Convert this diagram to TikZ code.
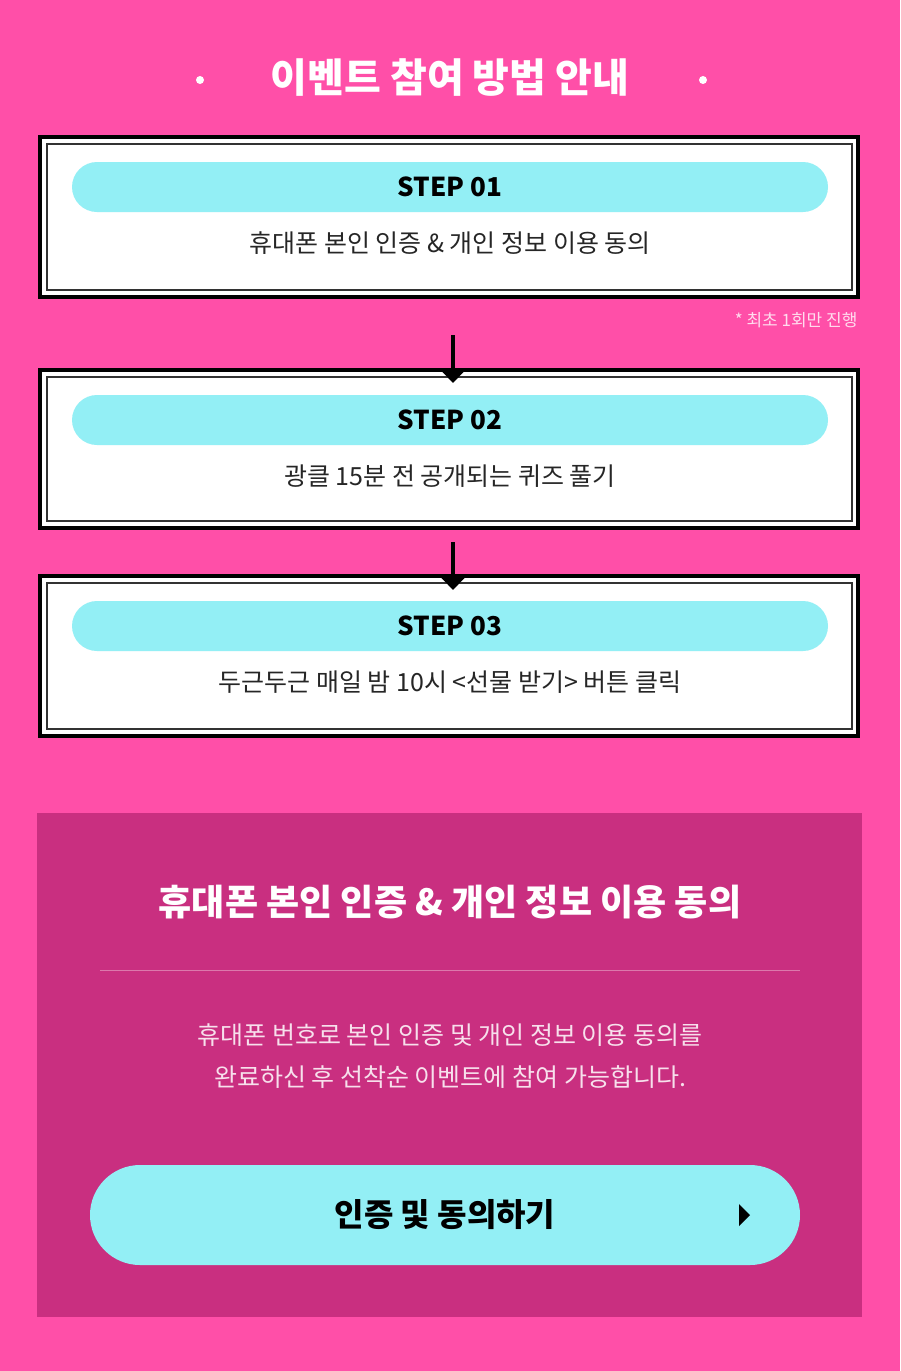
\documentclass[tikz,border=0pt]{standalone}
\usepackage{fontspec}
\setmainfont{Noto Sans CJK KR}
\newfontfamily\krbold{Noto Sans CJK KR}[BoldFont={* Bold}]
\usetikzlibrary{positioning,arrows.meta}
\definecolor{bgpink}{HTML}{FF4FA8}
\definecolor{panelpink}{HTML}{C92F80}
\definecolor{pillcyan}{HTML}{93EFF5}
\tikzset{
    step box/.style = {
        draw=black, line width=4pt, fill=white,
        },
    step inner/.style = {
        draw=black!80, line width=1.5pt,
        },
    step pill/.style = {
        fill=pillcyan, rounded corners=25pt,
        },
    step label/.style = {
        font=\fontsize{26}{30}\selectfont\bfseries,
        },
    step text/.style = {
        font=\fontsize{25}{30}\selectfont, text=black!85,
        },
    down arrow/.style = {
        -{Triangle[length=14pt,width=26pt]}, line width=4pt,
        },
}
\begin{document}
\begin{tikzpicture}[x=1pt,y=-1pt]
    \fill[bgpink] (0,0) rectangle (900,1371);
    \useasboundingbox (0,0) rectangle (900,1371);

    % title
    \node[text=white, font=\fontsize{40}{44}\selectfont\bfseries] (title) at (450,78) {이벤트 참여 방법 안내};
    \fill[white] (200,80) circle (4);
    \fill[white] (703,80) circle (4);

    % steps
    \foreach \i/\top/\bot/\txt in {1/137/297/{휴대폰 본인 인증 \& 개인 정보 이용 동의},
                                   2/370/528/{광클 15분 전 공개되는 퀴즈 풀기},
                                   3/576/736/{두근두근 매일 밤 10시 <선물 받기> 버튼 클릭}} {
        \draw[step box] (40,\top) rectangle (858,\bot);
        \draw[step inner] (47,\top+7) rectangle (852,\bot-7);
        \fill[step pill] (72,\top+25) rectangle (828,\top+75);
        \node[step label] (label\i) at (450,\top+50) {STEP 0\i};
        \node[step text] (text\i) at (450,\top+106) {\txt};
    }

    \node[anchor=east, text=white!80!bgpink, font=\fontsize{17}{20}\selectfont] (note) at (861,320) {* 최초 1회만 진행};

    \coordinate (a1) at (453,335);
    \coordinate (a2) at (453,542);
    \draw[down arrow] (a1) -- ++(0,48);
    \draw[down arrow] (a2) -- ++(0,48);

    % bottom panel
    \fill[panelpink] (37,813) rectangle (862,1317);
    \node[text=white, font=\fontsize{36}{40}\selectfont\bfseries] (ptitle) at (450,902) {휴대폰 본인 인증 \& 개인 정보 이용 동의};
    \draw[white!35!panelpink, line width=1pt] (100,970) -- (800,970);
    \node[text=white!85!panelpink, align=center, font=\fontsize{25}{42}\selectfont] (pbody) at (450,1056)
        {휴대폰 번호로 본인 인증 및 개인 정보 이용 동의를\\완료하신 후 선착순 이벤트에 참여 가능합니다.};

    \fill[pillcyan, rounded corners=50pt] (90,1165) rectangle (800,1265);
    \node[font=\fontsize{32}{36}\selectfont\bfseries] (button) at (445,1215) {인증 및 동의하기};
    \fill[black] (739,1204) -- (750,1215) -- (739,1226) -- cycle;
\end{tikzpicture}
\end{document}
